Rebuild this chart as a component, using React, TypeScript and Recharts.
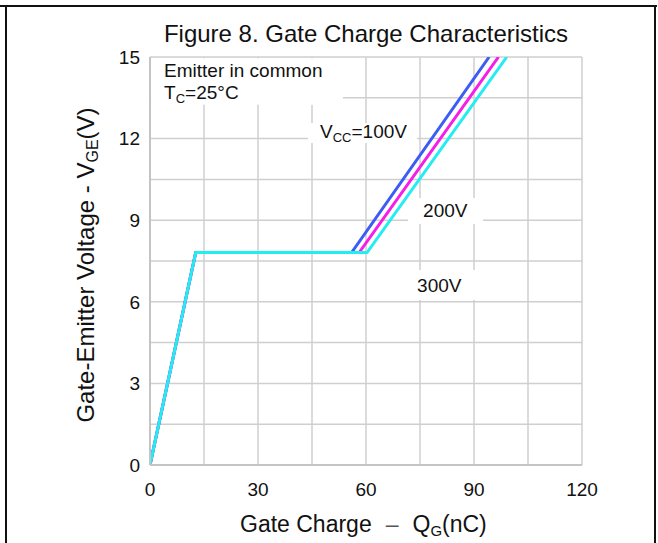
import React from 'react';
import { LineChart, Line, XAxis, YAxis, CartesianGrid, ReferenceArea } from 'recharts';

// Gate charge QG (nC) and gate-emitter voltage VGE (V) for each VCC curve
const qg100 = [0, 12.7, 56.0, 94.2];
const vge100 = [0, 7.81, 7.81, 15];
const qg200 = [0, 12.7, 58.1, 96.8];
const vge200 = [0, 7.81, 7.81, 15];
const qg300 = [0, 12.7, 60.3, 99.1];
const vge300 = [0, 7.81, 7.81, 15];

const seriesNames = ['100V', '200V', '300V'];
const seriesColors = ['#3b5cf5', '#f51ee6', '#22eef2'];

const xTicks = [0, 15, 30, 45, 60, 75, 90, 105, 120];
const yTicks = [0, 1.5, 3, 4.5, 6, 7.5, 9, 10.5, 12, 13.5, 15];
const xLabelTicks = [0, 30, 60, 90, 120];
const yLabelTicks = [0, 3, 6, 9, 12, 15];

const title = 'Figure 8. Gate Charge Characteristics';

const toPoints = (q: number[], v: number[]) => q.map((x, i) => ({ q: x, v: v[i] }));
const series = [
  { name: seriesNames[0], color: seriesColors[0], data: toPoints(qg100, vge100) },
  { name: seriesNames[1], color: seriesColors[1], data: toPoints(qg200, vge200) },
  { name: seriesNames[2], color: seriesColors[2], data: toPoints(qg300, vge300) },
];

const FONT = '"Liberation Sans", Arial, Helvetica, sans-serif';
const ANN = 19;
const TICK = 19;

const Sub = ({ children, size }: any) => (
  <tspan fontSize={size} dy={4}>{children}</tspan>
);

const boxLabel = (render: (x: number, y: number) => React.ReactNode) => (props: any) => {
  const vb = props.viewBox || {};
  return <g>{render(vb.x, vb.y)}</g>;
};

export default function App() {
  return (
    <div style={{ position: 'fixed', left: 0, top: 0, width: 658, height: 543, background: '#fff' }}>
      <LineChart
        width={658}
        height={543}
        margin={{ top: 57, right: 76, bottom: 48, left: 90 }}
        style={{ fontFamily: FONT }}
      >
        <CartesianGrid stroke="#cfcfcf" strokeWidth={1.5} />
        <XAxis
          type="number"
          dataKey="q"
          domain={[0, 120]}
          ticks={xTicks}
          interval={0}
          allowDataOverflow
          tickFormatter={(v: number) => (xLabelTicks.includes(v) ? String(v) : '')}
          tick={{ fill: '#111', fontSize: TICK, fontFamily: FONT }}
          tickLine={false}
          tickSize={0}
          tickMargin={18}
          axisLine={{ stroke: '#c4c4c4', strokeWidth: 2 }}
          height={30}
        />
        <YAxis
          type="number"
          domain={[0, 15]}
          ticks={yTicks}
          interval={0}
          allowDataOverflow
          tickFormatter={(v: number) => (yLabelTicks.includes(v) ? String(v) : '')}
          tick={{ fill: '#111', fontSize: TICK, fontFamily: FONT }}
          tickLine={false}
          tickSize={0}
          tickMargin={10}
          axisLine={{ stroke: '#c4c4c4', strokeWidth: 2 }}
          width={60}
        />
        <ReferenceArea
          x1={0.3}
          x2={53.6}
          y1={13.24}
          y2={14.95}
          fill="#fff"
          fillOpacity={1}
          stroke="none"
          label={{
            content: boxLabel((x, y) => (
              <text fontFamily={FONT} fontSize={ANN} fill="#111">
                <tspan x={x + 13} y={y + 19}>Emitter in common</tspan>
                <tspan x={x + 13} y={y + 41}>T</tspan>
                <Sub size={13}>C</Sub>
                <tspan dy={-4}>=25°C</tspan>
              </text>
            )),
          }}
        />
        <ReferenceArea
          x1={43.9}
          x2={74.2}
          y1={11.84}
          y2={12.57}
          fill="#fff"
          fillOpacity={1}
          stroke="none"
          label={{
            content: boxLabel((x, y) => (
              <text x={x + 12} y={y + 15} fontFamily={FONT} fontSize={ANN} fill="#111">
                V<Sub size={13}>CC</Sub>
                <tspan dy={-4}>={seriesNames[0]}</tspan>
              </text>
            )),
          }}
        />
        <ReferenceArea
          x1={71.7}
          x2={92.5}
          y1={8.86}
          y2={9.82}
          fill="#fff"
          fillOpacity={1}
          stroke="none"
          label={{
            content: boxLabel((x, y) => (
              <text x={x + 15} y={y + 19} fontFamily={FONT} fontSize={ANN} fill="#111">
                {seriesNames[1]}
              </text>
            )),
          }}
        />
        <ReferenceArea
          x1={71.7}
          x2={91.7}
          y1={6.07}
          y2={7.17}
          fill="#fff"
          fillOpacity={1}
          stroke="none"
          label={{
            content: boxLabel((x, y) => (
              <text x={x + 9} y={y + 22} fontFamily={FONT} fontSize={ANN} fill="#111">
                {seriesNames[2]}
              </text>
            )),
          }}
        />
        {series.map((s) => (
          <Line
            key={s.name}
            data={s.data}
            dataKey="v"
            type="linear"
            stroke={s.color}
            strokeWidth={3}
            dot={false}
            activeDot={false}
            isAnimationActive={false}
          />
        ))}
      </LineChart>
      <svg
        width={658}
        height={543}
        style={{ position: 'absolute', left: 0, top: 0, pointerEvents: 'none' }}
      >
        <rect x={0} y={5} width={657} height={2} fill="#111" />
        <rect x={5} y={5} width={2} height={538} fill="#111" />
        <rect x={654} y={5} width={2} height={538} fill="#111" />
        <text x={366} y={42} textAnchor="middle" fontFamily={FONT} fontSize={24} fill="#111">
          {title}
        </text>
        <text x={240} y={532} fontFamily={FONT} fontSize={23} fill="#111">
          Gate Charge
          <tspan dx={14} fill="#555">–</tspan>
          <tspan dx={14}>Q</tspan>
          <tspan fontSize={15} dy={4}>G</tspan>
          <tspan dy={-4}>(nC)</tspan>
        </text>
        <text
          x={94}
          y={265}
          textAnchor="middle"
          transform="rotate(-90 94 265)"
          fontFamily={FONT}
          fontSize={24}
          fill="#111"
        >
          Gate-Emitter Voltage - V
          <tspan fontSize={16} dy={4}>GE</tspan>
          <tspan dy={-4}>(V)</tspan>
        </text>
      </svg>
    </div>
  );
}
